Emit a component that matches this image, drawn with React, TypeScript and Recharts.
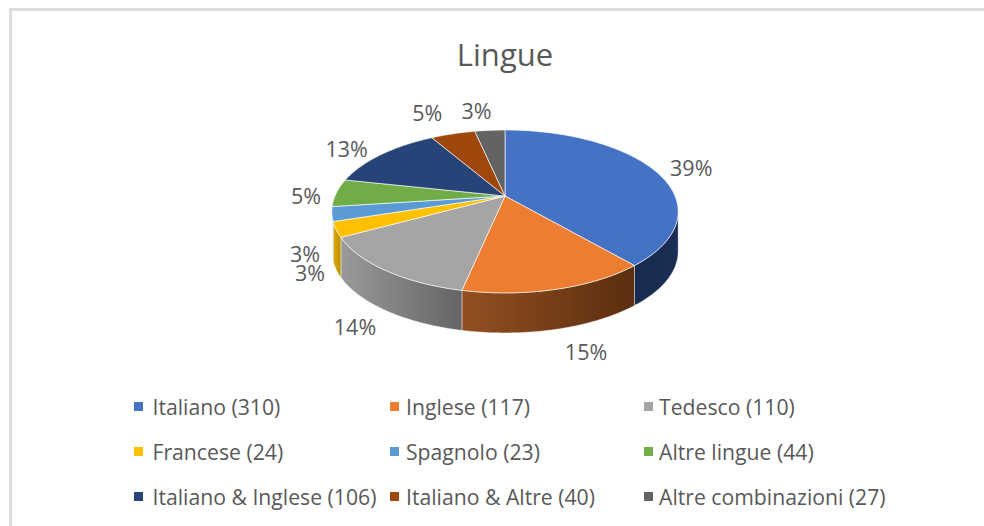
import React from 'react';
import { PieChart, Pie, Legend } from 'recharts';

const categories = ['Italiano (310)', 'Inglese (117)', 'Tedesco (110)', 'Francese (24)', 'Spagnolo (23)', 'Altre lingue (44)', 'Italiano & Inglese (106)', 'Italiano & Altre (40)', 'Altre combinazioni (27)'];
const values = [310, 117, 110, 24, 23, 44, 106, 40, 27];
const colors = ['#4472C4', '#ED7D31', '#A5A5A5', '#FFC000', '#5B9BD5', '#70AD47', '#264478', '#9E480E', '#636363'];
const wallLeft = ['#172B50', '#934F22', '#9A9A9A', '#E0AA00', '#3F78AE', '#4F7E31', '#19305A', '#6E320A', '#444444'];
const wallRight = ['#1A2E54', '#5A2E0E', '#646464', '#B98D00', '#3F78AE', '#4F7E31', '#19305A', '#6E320A', '#444444'];
const labelNudgeX = [9, 16, -1, 11, 9.5, 3, -13, -17, -11];
const labelNudgeY = [2, 38, 37.5, 36, 36, 3, 1, -10.6, -9];

const rows = categories.map((name, i) => ({ name, value: values[i], fill: colors[i] }));

const TILT = 0.19;
const SQUASH = 78.5 / 170;
const DEPTH = 40;
const FONT = '"Open Sans", "Noto Sans", sans-serif';
const TEXT = '#595959';

function project(cx: number, cy: number, r: number, deg: number, f = 1) {
  const t = (deg * Math.PI) / 180;
  const u = Math.sin(t) * f;
  const v = -Math.cos(t) * f;
  const w = 1 - TILT * v;
  return [cx + (r * u) / w, cy + (r * SQUASH * v) / w];
}

function arcPoints(cx: number, cy: number, r: number, a: number, b: number) {
  const n = Math.max(2, Math.ceil(b - a));
  const pts: number[][] = [];
  for (let i = 0; i <= n; i++) pts.push(project(cx, cy, r, a + ((b - a) * i) / n));
  return pts;
}

const toPath = (pts: number[][]) => pts.map((p, i) => `${i ? 'L' : 'M'}${p[0].toFixed(2)} ${p[1].toFixed(2)}`).join(' ');

function Slice(props: any) {
  const { cx, cy, outerRadius, startAngle, endAngle, fill, index } = props;
  const a = 90 - Math.max(startAngle, endAngle);
  const b = 90 - Math.min(startAngle, endAngle);
  const wa = Math.max(a, 101);
  const wb = Math.min(b, 253);
  const top = arcPoints(cx, cy, outerRadius, a, b);
  let wall = null;
  if (wb > wa) {
    const edge = arcPoints(cx, cy, outerRadius, wa, wb);
    const low = edge.map((p) => [p[0], p[1] + DEPTH]).reverse();
    const id = `wall-${index}`;
    wall = (
      <g>
        <defs>
          <linearGradient id={id} x1="0" x2="1" y1="0" y2="0">
            <stop offset="0" stopColor={wallLeft[index]} />
            <stop offset="1" stopColor={wallRight[index]} />
          </linearGradient>
        </defs>
        <path d={toPath([...edge, ...low]) + ' Z'} fill={`url(#${id})`} stroke="#fff" strokeOpacity={0.55} strokeWidth={0.75} />
      </g>
    );
  }
  return (
    <g>
      {wall}
      <path d={toPath([[cx, cy], ...top]) + ' Z'} fill={fill} stroke="#fff" strokeOpacity={0.7} strokeWidth={0.9} strokeLinejoin="round" />
    </g>
  );
}

function SliceLabel(props: any) {
  const { cx, cy, outerRadius, midAngle, percent, index } = props;
  const [x, y] = project(cx, cy, outerRadius, 90 - midAngle, 1.2);
  return (
    <text x={x + labelNudgeX[index]} y={y + labelNudgeY[index]} textAnchor="middle" dominantBaseline="central" fontFamily={FONT} fontSize={21.5} fill={TEXT}>
      {`${Math.round(percent * 100)}%`}
    </text>
  );
}

const legendX = [134, 390, 644];
const legendY = [406, 451, 496];
const legendGap = [9.5, 7, 6];

function LegendBlock({ payload }: any) {
  return (
    <div style={{ position: 'relative', width: 984, height: 526 }}>
      {(payload || []).map((item: any, i: number) => {
        const left = legendX[i % 3];
        const top = legendY[Math.floor(i / 3)];
        return (
          <div key={item.value} style={{ position: 'absolute', left, top: top - 15, height: 30, display: 'flex', alignItems: 'center', whiteSpace: 'nowrap', fontFamily: FONT, fontSize: 21.2, color: TEXT }}>
            <span style={{ display: 'inline-block', width: 9, height: 9, marginRight: legendGap[i % 3], background: item.color }} />
            {item.value}
          </div>
        );
      })}
    </div>
  );
}

export default function App() {
  return (
    <div style={{ position: 'absolute', left: 0, top: 0, width: 984, height: 526, background: '#fff', overflow: 'hidden' }}>
      <div style={{ position: 'absolute', left: 9, top: 8, width: 975, height: 518, borderTop: '3px solid #DCDCDC', borderLeft: '3px solid #DCDCDC', boxSizing: 'border-box' }} />
      <PieChart width={984} height={526} margin={{ top: 0, right: 0, bottom: 0, left: 0 }} style={{ position: 'absolute', left: 0, top: 0 }}>
        <text x={505} y={54} textAnchor="middle" dominantBaseline="central" fontFamily={FONT} fontSize={31} fill={TEXT}>Lingue</text>
        <Pie
          data={rows}
          dataKey="value"
          nameKey="name"
          cx={505}
          cy={196}
          outerRadius={170}
          startAngle={90}
          endAngle={-270}
          stroke="none"
          shape={Slice}
          activeShape={Slice}
          label={SliceLabel}
          labelLine={false}
          isAnimationActive={false}
        />
        <Legend content={LegendBlock} itemSorter={null} layout="horizontal" verticalAlign="middle" align="center" wrapperStyle={{ left: 0, top: 0, width: 984, height: 526 }} />
      </PieChart>
    </div>
  );
}
